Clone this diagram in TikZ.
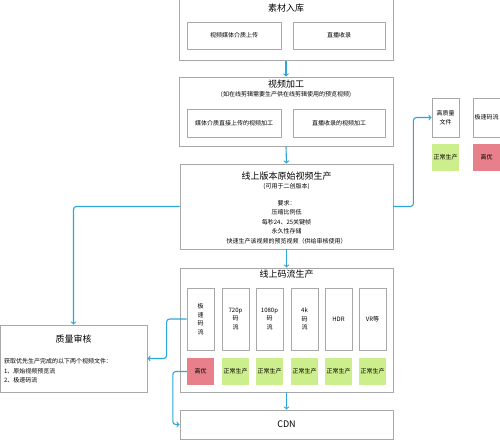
\documentclass[tikz,border=0pt]{standalone}
\usepackage{fontspec}
\setmainfont{Noto Sans CJK SC}
\definecolor{boxgray}{HTML}{A8A8A8}
\definecolor{flowblue}{HTML}{2EA6D8}
\definecolor{okgreen}{HTML}{CDEE8C}
\definecolor{hotred}{HTML}{E8808C}
\begin{document}
\begin{tikzpicture}[x=1pt,y=-1pt,
  frame/.style={draw=boxgray, line width=0.8pt, inner sep=0pt},
  item/.style={draw=boxgray, line width=0.8pt, inner sep=1pt, align=center, font=\fontsize{6}{8.5}\selectfont},
  tag/.style={inner sep=0pt, minimum width=27pt, minimum height=27pt, font=\fontsize{6}{7}\selectfont},
  title/.style={font=\fontsize{9}{11}\selectfont},
  small/.style={font=\fontsize{6}{9.5}\selectfont, align=center},
  flow/.style={draw=flowblue, line width=1.1pt, rounded corners=3pt, ->}]
\clip (0,0) rectangle (500,440);
\fill[white] (0,0) rectangle (500,440);
% material intake
\node[frame, minimum width=214pt, minimum height=61pt] (sucai) at (286,30) {};
\node[title] (sucaiT) at (286,8) {素材入库};
\node[item, minimum width=94pt, minimum height=27pt] (upload) at (234,35.5) {视频媒体介质上传};
\node[item, minimum width=92pt, minimum height=27pt] (live) at (339,35.5) {直播收录};
% processing
\node[frame, minimum width=214pt, minimum height=69pt] (jiagong) at (286,111.5) {};
\node[title] (jiagongT) at (286,84) {视频加工};
\node[small] (jiagongS) at (286,95) {(如在线剪辑需要生产供在线剪辑使用的预览视频)};
\node[item, minimum width=94pt, minimum height=28pt] (upEdit) at (234,123) {媒体介质直接上传的视频加工};
\node[item, minimum width=92pt, minimum height=28pt] (liveEdit) at (339,123) {直播收录的视频加工};
% original version
\node[frame, minimum width=213pt, minimum height=85pt] (yuanshi) at (286.5,206.5) {};
\node[title] (yuanshiT) at (286.5,176) {线上版本原始视频生产};
\node[small] (yuanshiS) at (286.5,187) {(可用于二创版本)};
\node[small] (yuanshiR) at (286.5,222) {要求：\\压缩比例低\\每秒24、25关键帧\\永久性存储\\快速生产该视频的预览视频（供给审核使用）};
% streams
\node[frame, minimum width=213pt, minimum height=124pt] (malu) at (286.5,330) {};
\node[title] (maluT) at (286.5,274) {线上码流生产};
\foreach \n/\x/\txt/\c/\lab in {1/200.5/{极\\速\\码\\流}/hotred/高优,
    2/235.5/{720p\\码\\流}/okgreen/正常生产, 3/269.5/{1080p\\码\\流}/okgreen/正常生产,
    4/304.5/{4k\\码\\流}/okgreen/正常生产, 5/338.5/HDR/okgreen/正常生产,
    6/372.5/VR等/okgreen/正常生产}{
  \node[item, minimum width=27pt, minimum height=62pt, inner sep=0pt] (it\n) at (\x,319) {\txt};
  \node[tag, fill=\c] (tag\n) at (\x,371.5) {\lab};
}
% cdn
\node[frame, minimum width=213pt, minimum height=29pt, title] (cdn) at (286.5,424.5) {CDN};
% review
\node[frame, minimum width=147pt, minimum height=67pt] (shenhe) at (73.5,358.5) {};
\node[title] (shenheT) at (73.5,339) {质量审核};
\node[small, align=left, anchor=west] (shenheS) at (0.5,371) {获取优先生产完成的以下两个视频文件：\\1、原始视频预览流\\2、极速码流};
% right side
\node[item, minimum width=27pt, minimum height=39pt, inner sep=0pt] (hq) at (445.5,117.5) {高质量\\文件};
\node[tag, fill=okgreen] (hqtag) at (445.5,157) {正常生产};
\node[item, minimum width=27pt, minimum height=39pt, inner sep=0pt] (fast) at (486.5,117.5) {极速码流};
\node[tag, fill=hotred] (fasttag) at (486.5,157) {高优};
% connectors
\draw[flow] (sucai.south) -- (jiagong.north);
\draw[flow] (jiagong.south) -- (yuanshi.north);
\draw[flow] (yuanshi.south) -- (malu.north);
\draw[flow] (malu.south) -- (cdn.north);
\draw[flow] (yuanshi.west) -| (shenhe.north);
\draw[flow] (yuanshi.east) -- ++(20,0) |- (hq.west);
\draw[flow] (it1.west) -- ++(-20,0) |- (shenhe.east);
\draw[flow] (tag1.west) -- ++(-14,0) |- (cdn.west);
\end{tikzpicture}
\end{document}
